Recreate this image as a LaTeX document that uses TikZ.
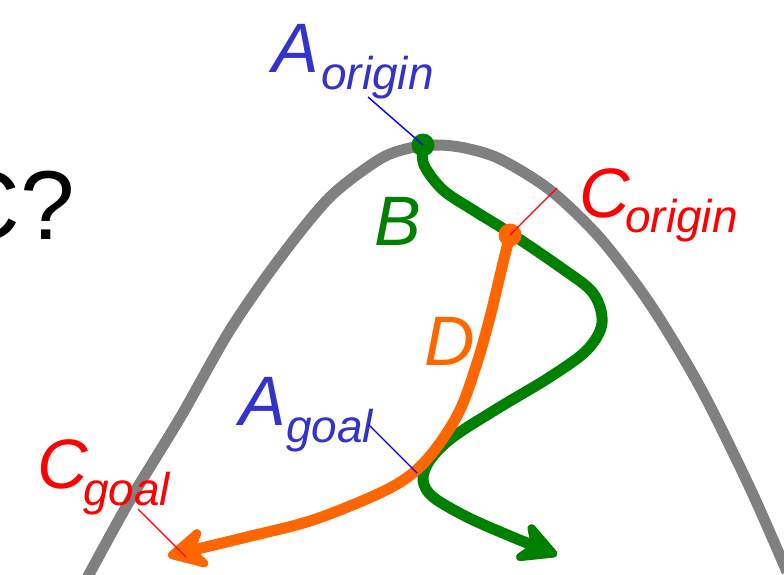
\documentclass[tikz,border=0pt]{standalone}
\usepackage{fontspec}
\setmainfont{Liberation Sans}
\usetikzlibrary{arrows.meta}
\definecolor{tblue}{HTML}{3333CC}
\definecolor{tgreen}{HTML}{008000}
\definecolor{torange}{HTML}{FF6600}
\definecolor{tred}{HTML}{FF0000}
\definecolor{tgray}{HTML}{808080}
\tikzset{
  lbl/.style={anchor=base west, inner sep=0pt, font=\itshape\fontsize{70}{70}\selectfont},
  sub/.style={anchor=base west, inner sep=0pt, font=\itshape\fontsize{46}{46}\selectfont},
  thickpath/.style={line width=11pt, line cap=round, line join=round},
  leader/.style={line width=1.4pt},
  arrowtip/.style={-{Stealth[length=50pt,width=52pt,inset=17pt,round]}},
  dot/.style={radius=11.5pt}
}
\begin{document}
\begin{tikzpicture}[x=1pt,y=-1pt]
\useasboundingbox (0,0) rectangle (784,575);
% gray hill
\draw[tgray, line width=11pt] plot[smooth, tension=0.5] coordinates {
 (86,580) (130,500) (180,418) (230,330) (280,258) (330,197) (380,159) (410,148) (437,145)
 (465,148) (500,159) (550,190) (600,238) (650,304) (700,387) (750,488) (787,572)};
% text C?
\node[anchor=base east, inner sep=0pt, font=\fontsize{98}{98}\selectfont] (cq) at (75,239) {C?};
% named points
\coordinate (Ao) at (423,145);
\coordinate (Co) at (510,235);
\coordinate (Ag) at (417,473);
\coordinate (Cg) at (186,557);
% green path B
\draw[tgreen, thickpath, arrowtip] plot[smooth, tension=0.55] coordinates {
 (423,145) (424,165) (443,190) (473,210) (510,233) (560,267) (593,293) (602,323)
 (587,350) (550,377) (500,407) (453,437) (430,460) (423,480) (433,497) (467,517) (510,536) (557,555)};
\fill[tgreen, dot] (Ao) circle;
% orange path D
\draw[torange, thickpath, arrowtip] plot[smooth, tension=0.55] coordinates {
 (510,235) (503,263) (490,317) (477,363) (460,410) (437,447) (413,473) (380,493)
 (313,520) (247,537) (168,556)};
\fill[torange, dot] (Co) circle;
% labels
\node[lbl, text=tblue] (Aorig) at (272,73) {A};
\node[sub, text=tblue] (Aorigs) at (321,90) {origin};
\node[lbl, text=tred] (Corig) at (579,217) {C};
\node[sub, text=tred] (Corigs) at (625,232) {origin};
\node[lbl, text=tblue] (Agoal) at (239,425) {A};
\node[sub, text=tblue] (Agoals) at (286,442) {goal};
\node[lbl, text=tred] (Cgoal) at (37,488) {C};
\node[sub, text=tred] (Cgoals) at (83,505) {goal};
\node[lbl, text=tgreen] (B) at (374,245) {B};
\node[lbl, text=torange] (D) at (424,365) {D};
% leaders
\coordinate (AoL) at (368,97);
\coordinate (CoL) at (557,188);
\coordinate (AgL) at (369,425);
\coordinate (CgL) at (138,509);
\draw[leader, blue] (AoL) -- (Ao);
\draw[leader, tred] (CoL) -- (Co);
\draw[leader, blue] (AgL) -- (Ag);
\draw[leader, tred] (CgL) -- (Cg);
\end{tikzpicture}
\end{document}
